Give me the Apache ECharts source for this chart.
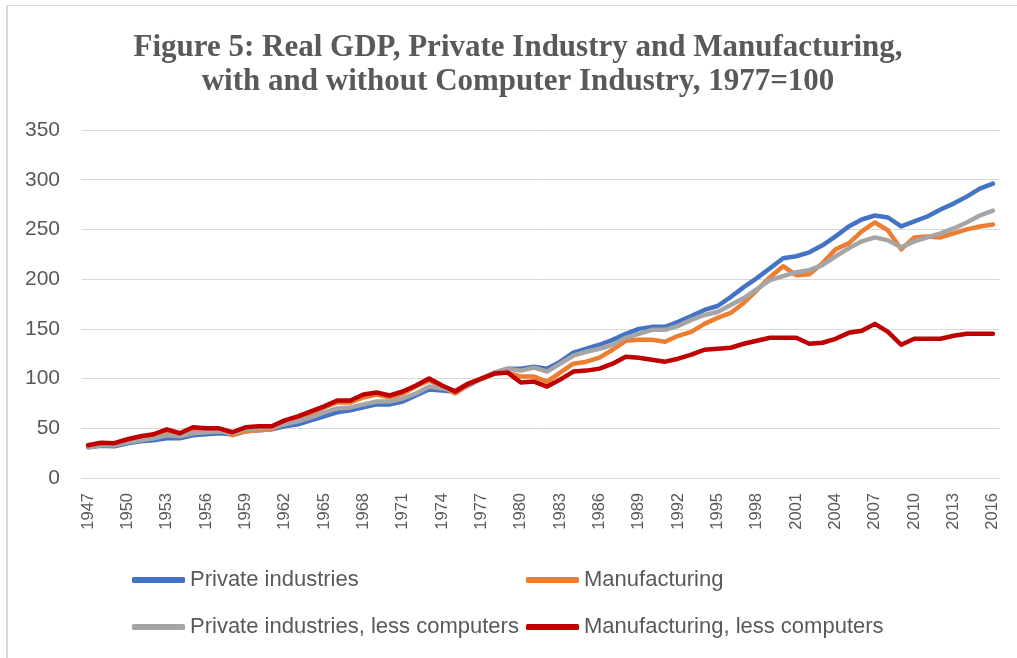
<!DOCTYPE html>
<html>
<head>
<meta charset="utf-8">
<script src="https://cdn.jsdelivr.net/npm/echarts@6/dist/echarts.min.js"></script>
<style>
html,body{margin:0;padding:0;background:#fff;}
#chart{width:1017px;height:658px;}
</style>
</head>
<body>
<div id="chart"></div>
<script>
const years = [];
for (let y = 1947; y <= 2016; y++) years.push(String(y));

const privateIndustries = [31,32.5,32,35,37,38,40,40,43,44,45,44,47,48,49,52,54,58,62,66,68,71,74,74,77,83,89,88,87,93,100,106,110,110,112,110,117,126,130,134,139,145,150,152,152,157,163,169,173,182,192,201,211,221,223,227,234,243,253,260,264,262,253,258,263,270,276,283,291,296];
const manufacturing = [33,35,34,38,41,43,47,44,49,49,49,43,47,48,49,55,59,65,71,76,76,81,84,81,85,92,98,92,85,94,100,105,106,102,102,97,106,115,117,121,129,138,139,139,137,143,147,155,161,166,176,189,202,213,204,205,216,230,236,248,257,249,230,242,243,242,246,250,253,255];
const privateLessComputers = [31,33,33,36,38,40,43,42,45,46,47,45,49,50,51,54,57,61,66,70,71,74,77,77,80,85,92,90,88,95,100,106,110,108,111,107,115,123,127,130,134,141,145,149,149,153,159,164,167,174,181,190,199,203,207,209,214,223,231,238,242,239,232,238,242,246,251,257,264,269];
const manufacturingLessComputers = [33,35.5,35,39,42,44,49,45,51,50,50,46,51,52,52,58,62,67,72,78,78,84,86,83,87,93,100,93,87,95,100,105,106,96,97,92,99,107,108,110,115,122,121,119,117,120,124,129,130,131,135,138,141,141,141,135,136,140,146,148,155,147,134,140,140,140,143,145,145,145];

const titleLines = ['Figure 5: Real GDP, Private Industry and Manufacturing,', 'with and without Computer Industry, 1977=100'];
const seriesNames = ['Private industries', 'Manufacturing', 'Private industries, less computers', 'Manufacturing, less computers'];
const seriesColors = ['#4472C4', '#ED7D31', '#A5A5A5', '#C00000'];
const seriesData = [privateIndustries, manufacturing, privateLessComputers, manufacturingLessComputers];

const chart = echarts.init(document.getElementById('chart'), null, {renderer: 'canvas'});
const textColor = '#595959';
const titleFont = 'bold 31px "Liberation Serif"';
const legendFont = {fontFamily: 'Liberation Sans', fontSize: 22, color: textColor};
const legendCommon = {
  orient: 'vertical',
  top: 569,
  padding: 0,
  itemGap: 25,
  itemWidth: 53,
  itemHeight: 6,
  icon: 'roundRect',
  textStyle: legendFont
};

chart.setOption({
  animation: false,
  backgroundColor: '#ffffff',
  graphic: [
    {type: 'line', shape: {x1: 7, y1: 5.5, x2: 1017, y2: 5.5}, style: {stroke: '#d9d9d9', lineWidth: 1}},
    {type: 'line', shape: {x1: 7, y1: 5, x2: 7, y2: 658}, style: {stroke: '#d9d9d9', lineWidth: 2}},
    {type: 'text', x: 518, y: 48, style: {text: titleLines[0], font: titleFont, fill: textColor, align: 'center', verticalAlign: 'middle'}},
    {type: 'text', x: 518, y: 82, style: {text: titleLines[1], font: titleFont, fill: textColor, align: 'center', verticalAlign: 'middle'}}
  ],
  legend: [
    Object.assign({left: 132, data: [seriesNames[0], seriesNames[2]]}, legendCommon),
    Object.assign({left: 526, data: [seriesNames[1], seriesNames[3]]}, legendCommon)
  ],
  grid: {left: 81.5, top: 130, width: 918, height: 348, containLabel: false},
  xAxis: {
    type: 'category',
    data: years,
    boundaryGap: true,
    axisLine: {show: true, lineStyle: {color: '#d9d9d9', width: 1}},
    axisTick: {show: false},
    axisLabel: {
      interval: 2,
      rotate: 90,
      margin: 15,
      color: textColor,
      fontFamily: 'Liberation Sans',
      fontSize: 16.5
    },
    splitLine: {show: false}
  },
  yAxis: {
    type: 'value',
    min: 0,
    max: 350,
    interval: 50,
    axisLine: {show: false},
    axisTick: {show: false},
    axisLabel: {
      color: textColor,
      fontFamily: 'Liberation Sans',
      fontSize: 21,
      margin: 21.5
    },
    splitLine: {lineStyle: {color: '#d9d9d9', width: 1}}
  },
  series: seriesNames.map((name, i) => ({
    name: name,
    type: 'line',
    data: seriesData[i],
    showSymbol: false,
    symbol: 'none',
    color: seriesColors[i],
    lineStyle: {width: 4.5, color: seriesColors[i], cap: 'round', join: 'round'},
    z: 2 + i
  }))
});
</script>
</body>
</html>
